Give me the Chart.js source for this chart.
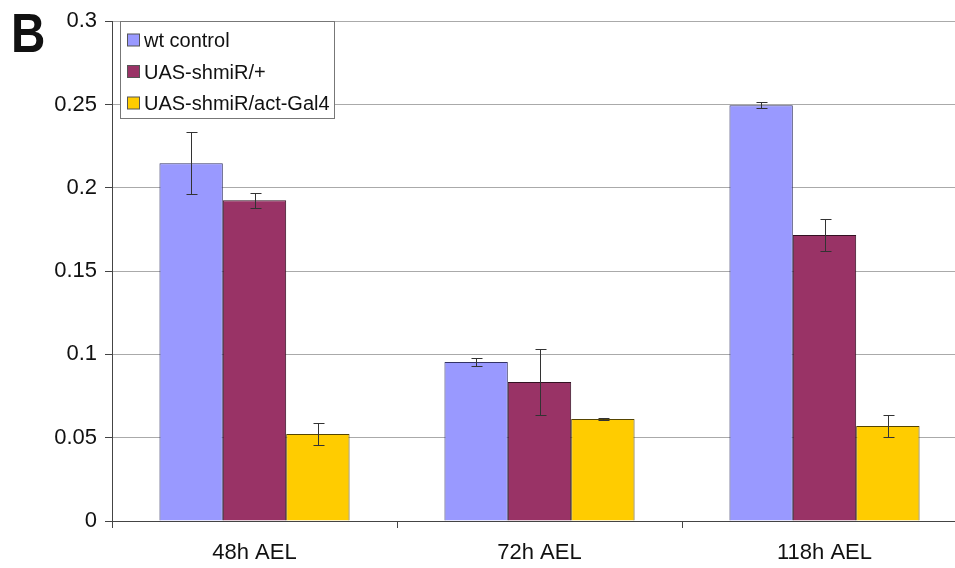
<!DOCTYPE html>
<html><head><meta charset="utf-8">
<script src="https://cdn.jsdelivr.net/npm/chart.js@4/dist/chart.umd.min.js"></script>
<style>
html,body{margin:0;padding:0;background:#fff;overflow:hidden;}
#wrap{position:relative;width:955px;height:568px;overflow:hidden;}
#c{position:absolute;left:0;top:0;}
#lbl{position:absolute;left:11px;top:5px;font:bold 56px/56px "Liberation Sans",Arial,sans-serif;color:#111;transform:scaleX(0.85);transform-origin:left top;}
</style></head><body>
<div id="wrap"><canvas id="c" width="968" height="568"></canvas><div id="lbl">B</div></div>
<script>
const categories = ["48h AEL", "72h AEL", "118h AEL"];
const seriesNames = ["wt control", "UAS-shmiR/+", "UAS-shmiR/act-Gal4"];
const wtControl = [0.2148, 0.0954, 0.2496];
const shmiRPlus = [0.1926, 0.0834, 0.1716];
const shmiRGal4 = [0.0522, 0.0612, 0.0570];
const wtControlErr = [0.0186, 0.0025, 0.0020];
const shmiRPlusErr = [0.0045, 0.0200, 0.0098];
const shmiRGal4Err = [0.0068, 0.0005, 0.0068];
const yTicks = [0, 0.05, 0.1, 0.15, 0.2, 0.25, 0.3];

const colors = ["#9999FF", "#993366", "#FFCC00"];
const borders = ["#333366", "#331122", "#554400"];
const values = [wtControl, shmiRPlus, shmiRGal4];
const errs = [wtControlErr, shmiRPlusErr, shmiRGal4Err];
const FONT = '"Liberation Sans", Arial, sans-serif';

const errorBars = {
  id: 'errorBars',
  afterDatasetsDraw(chart) {
    const ctx = chart.ctx, y = chart.scales.y;
    ctx.save();
    ctx.strokeStyle = '#333';
    ctx.lineWidth = 1;
    chart.data.datasets.forEach((ds, di) => {
      const meta = chart.getDatasetMeta(di);
      meta.data.forEach((bar, i) => {
        const v = ds.data[i], e = ds.err[i];
        const x = Math.round(bar.x) + 0.5;
        const yt = Math.round(y.getPixelForValue(v + e)) + 0.5;
        const yb = Math.round(y.getPixelForValue(v - e)) + 0.5;
        ctx.beginPath();
        ctx.moveTo(x, yt); ctx.lineTo(x, yb);
        ctx.moveTo(x - 5, yt); ctx.lineTo(x + 6, yt);
        ctx.moveTo(x - 5, yb); ctx.lineTo(x + 6, yb);
        ctx.stroke();
      });
    });
    ctx.restore();
  }
};

const boxLegend = {
  id: 'boxLegend',
  afterDraw(chart) {
    const ctx = chart.ctx;
    const x0 = 120.5, y0 = 21.5, w = 214, h = 97;
    ctx.save();
    ctx.fillStyle = '#fff';
    ctx.fillRect(x0, y0, w, h);
    ctx.strokeStyle = '#777';
    ctx.lineWidth = 1;
    ctx.strokeRect(x0, y0, w, h);
    ctx.font = '20px ' + FONT;
    ctx.textBaseline = 'alphabetic';
    chart.data.datasets.forEach((ds, i) => {
      const base = 47 + i * 31.5;
      const cy = base - 7;
      ctx.fillStyle = ds.backgroundColor;
      ctx.fillRect(127.5, cy - 6, 12, 12);
      ctx.strokeStyle = '#555';
      ctx.strokeRect(127.5, cy - 6, 12, 12);
      ctx.fillStyle = '#111';
      ctx.fillText(ds.label, 144, base);
    });
    ctx.restore();
  }
};

new Chart(document.getElementById('c'), {
  type: 'bar',
  data: {
    labels: categories,
    datasets: seriesNames.map((n, i) => ({
      label: n,
      data: values[i],
      err: errs[i],
      backgroundColor: colors[i],
      borderColor: borders[i],
      borderWidth: 1,
      categoryPercentage: 0.667,
      barPercentage: 1.0
    }))
  },
  options: {
    responsive: false,
    animation: false,
    layout: { padding: { left: 0, right: 1, top: 21, bottom: 0 } },
    plugins: { legend: { display: false }, tooltip: { enabled: false } },
    scales: {
      x: {
        offset: true,
        grid: { offset: true, drawOnChartArea: false, drawTicks: true, tickLength: 7, color: '#444' },
        border: { color: '#444', width: 1 },
        ticks: { color: '#111', font: { family: FONT, size: 22 }, padding: 12 },
        afterFit(s) { s.height = 47; }
      },
      y: {
        min: 0, max: 0.3,
        afterBuildTicks(s) { s.ticks = yTicks.map(v => ({ value: v })); },
        grid: { color: '#aaaaaa', tickLength: 7, tickColor: '#444' },
        border: { color: '#444', width: 1 },
        ticks: { color: '#111', font: { family: FONT, size: 22 }, padding: 8,
          callback: v => String(v) },
        afterFit(s) { s.width = 112; }
      }
    }
  },
  plugins: [errorBars, boxLegend]
});
</script>
</body></html>
